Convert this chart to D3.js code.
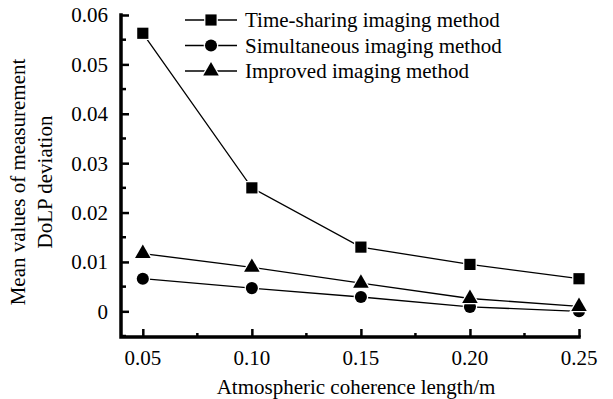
<!DOCTYPE html>
<html>
<head>
<meta charset="utf-8">
<script src="https://cdn.jsdelivr.net/npm/d3@7"></script>
<style>
  body { margin: 0; background: #fff; }
</style>
</head>
<body>
<div id="chart"></div>
<script>
// data
const lengths = [0.05, 0.10, 0.15, 0.20, 0.25];
const timeSharing = [0.0563, 0.0250, 0.0130, 0.0095, 0.0066];
const simultaneous = [0.0066, 0.0047, 0.0029, 0.0009, 0.0000];
const improved = [0.0117, 0.0089, 0.0057, 0.0026, 0.0010];
const seriesNames = ["Time-sharing imaging method", "Simultaneous imaging method", "Improved imaging method"];
const xTickLabels = ["0.05", "0.10", "0.15", "0.20", "0.25"];
const yTicks = [0, 0.01, 0.02, 0.03, 0.04, 0.05, 0.06];

const width = 613, height = 399;
const margin = { top: 15, right: 34, bottom: 62, left: 121 };
const font = "'Liberation Serif', 'Times New Roman', serif";

const svg = d3.select("#chart")
  .append("svg")
  .attr("width", width)
  .attr("height", height);

const x = d3.scaleLinear()
  .domain([0.04, 0.25])
  .range([margin.left, width - margin.right]);

const y = d3.scaleLinear()
  .domain([-0.0052, 0.06])
  .range([height - margin.bottom, margin.top]);

const plotBottom = y(-0.0052);

// minor ticks
const yMinor = d3.range(-0.005, 0.0601, 0.005).filter(v => !yTicks.some(t => Math.abs(t - v) < 1e-6));
const xMinor = [0.075, 0.125, 0.175, 0.225];

svg.append("g")
  .selectAll("line")
  .data(yMinor)
  .enter()
  .append("line")
  .attr("x1", x(0.04)).attr("x2", x(0.04) + 5)
  .attr("y1", d => y(d)).attr("y2", d => y(d))
  .attr("stroke", "#000").attr("stroke-width", 2.5);

svg.append("g")
  .selectAll("line")
  .data(xMinor)
  .enter()
  .append("line")
  .attr("x1", d => x(d)).attr("x2", d => x(d))
  .attr("y1", plotBottom).attr("y2", plotBottom - 4)
  .attr("stroke", "#000").attr("stroke-width", 2.5);

// y axis
const yAxis = svg.append("g")
  .attr("transform", "translate(" + x(0.04) + ",0)")
  .call(d3.axisRight(y).tickValues(yTicks).tickSize(8).tickFormat(""));
yAxis.select(".domain").remove();
yAxis.selectAll("line").attr("stroke-width", 2.5);

svg.append("g")
  .selectAll("text")
  .data(yTicks)
  .enter()
  .append("text")
  .attr("x", 108)
  .attr("y", d => y(d))
  .attr("dy", "0.35em")
  .attr("text-anchor", "end")
  .attr("font-family", font)
  .attr("font-size", 21)
  .text(d => d === 0 ? "0" : d.toFixed(2));

// x axis
const xAxis = svg.append("g")
  .attr("transform", "translate(0," + plotBottom + ")")
  .call(d3.axisTop(x).tickValues(lengths).tickSize(8).tickFormat(""));
xAxis.select(".domain").remove();
xAxis.selectAll("line").attr("stroke-width", 2.5);

svg.append("g")
  .selectAll("text")
  .data(lengths)
  .enter()
  .append("text")
  .attr("x", d => x(d))
  .attr("y", plotBottom + 28)
  .attr("text-anchor", "middle")
  .attr("font-family", font)
  .attr("font-size", 21)
  .text((d, i) => xTickLabels[i]);

// axis lines
svg.append("path")
  .attr("d", "M" + x(0.04) + "," + y(0.06) + "V" + plotBottom + "H" + x(0.25))
  .attr("fill", "none")
  .attr("stroke", "#000")
  .attr("stroke-width", 3.5)
  .attr("stroke-linecap", "square");

// titles
svg.append("text")
  .attr("x", (x(0.04) + x(0.25)) / 2 + 6)
  .attr("y", 394)
  .attr("text-anchor", "middle")
  .attr("font-family", font)
  .attr("font-size", 21)
  .text("Atmospheric coherence length/m");

const yTitle = svg.append("text")
  .attr("transform", "translate(25,182) rotate(-90)")
  .attr("text-anchor", "middle")
  .attr("font-family", font)
  .attr("font-size", 21);
yTitle.append("tspan").attr("x", 0).attr("y", 0).text("Mean values of measurement");
yTitle.append("tspan").attr("x", 0).attr("y", 27).text("DoLP deviation");

// series
const allSeries = [timeSharing, simultaneous, improved];
const shapes = [d3.symbolSquare, d3.symbolCircle, d3.symbolTriangle];
const sizes = [125, 115, 105];

const line = d3.line()
  .x((d, i) => x(lengths[i]))
  .y(d => y(d));

allSeries.forEach((vals, s) => {
  svg.append("path")
    .datum(vals)
    .attr("d", line)
    .attr("fill", "none")
    .attr("stroke", "#000")
    .attr("stroke-width", 1.3);
});

allSeries.forEach((vals, s) => {
  svg.append("g")
    .selectAll("path")
    .data(vals)
    .enter()
    .append("path")
    .attr("transform", (d, i) => "translate(" + x(lengths[i]) + "," + y(d) + ")")
    .attr("d", d3.symbol().type(shapes[s]).size(sizes[s]))
    .attr("fill", "#000")
    .attr("stroke", "#fff")
    .attr("stroke-width", 2.5)
    .attr("paint-order", "stroke");
});

// legend
const legend = svg.append("g");
seriesNames.forEach((name, s) => {
  const ly = 20 + s * 25.5;
  legend.append("line")
    .attr("x1", 185).attr("x2", 237)
    .attr("y1", ly).attr("y2", ly)
    .attr("stroke", "#000").attr("stroke-width", 1.3);
  legend.append("path")
    .attr("transform", "translate(211," + ly + ")")
    .attr("d", d3.symbol().type(shapes[s]).size(sizes[s]))
    .attr("fill", "#000")
    .attr("stroke", "#fff")
    .attr("stroke-width", 2.5)
    .attr("paint-order", "stroke");
  legend.append("text")
    .attr("x", 245)
    .attr("y", ly)
    .attr("dy", "0.35em")
    .attr("font-family", font)
    .attr("font-size", 21)
    .text(name);
});
</script>
</body>
</html>
